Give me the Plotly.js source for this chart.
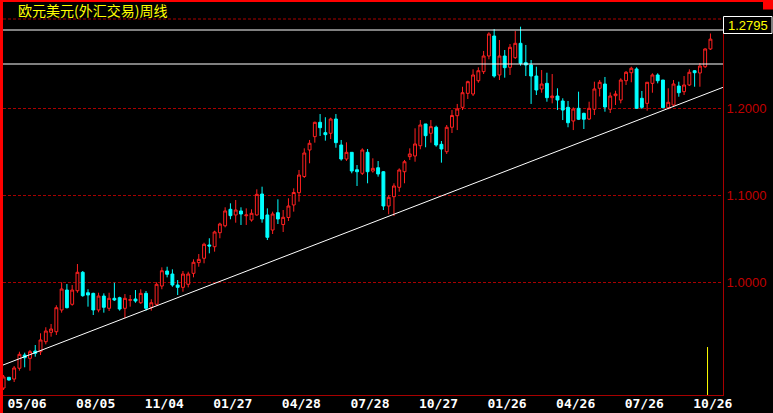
<!DOCTYPE html>
<html>
<head>
<meta charset="utf-8">
<script src="https://cdn.plot.ly/plotly-3.0.1.min.js"></script>
<style>
  html, body { margin: 0; padding: 0; background: #000; }
  #chart { width: 773px; height: 413px; }
</style>
</head>
<body>
<div id="chart"></div>
<script>
// ---- data (weekly EUR/USD candles) ----
const titleText = '欧元美元(外汇交易)周线';
const dateLabels = ['05/06','08/05','11/04','01/27','04/28','07/28','10/27','01/26','04/26','07/26','10/26'];
const dateLabelIdx = [1,14,27,40,53,66,79,92,105,118,131];

const openP = [
0.8785,0.8908,0.8888,0.9012,0.9164,0.9126,0.9210,0.9202,0.9317,0.9425,
0.9432,0.9682,0.9911,0.9747,0.9903,1.0115,0.9880,0.9873,0.9682,0.9842,
0.9701,0.9816,0.9823,0.9701,0.9793,0.9808,0.9765,0.9873,0.9713,0.9747,
0.9957,1.0130,1.0095,0.9969,0.9942,0.9977,1.0103,1.0226,1.0276,1.0429,
1.0409,1.0570,1.0650,1.0839,1.0774,1.0820,1.0765,1.0716,1.0774,1.1015,
1.0774,1.0601,1.0800,1.0664,1.0745,1.0889,1.1030,1.1216,1.1521,1.1674,
1.1839,1.1720,1.1713,1.1877,1.1578,1.1417,1.1494,1.1294,1.1253,1.1494,
1.1279,1.1317,1.1271,1.0877,1.0984,1.1092,1.1271,1.1444,1.1452,1.1570,
1.1820,1.1713,1.1782,1.1586,1.1501,1.1782,1.1915,1.2011,1.2172,1.2164,
1.2317,1.2421,1.2601,1.2831,1.2383,1.2601,1.2471,1.2582,1.2747,1.2524,
1.2498,1.2371,1.2222,1.2287,1.2122,1.2141,1.2084,1.2011,1.1854,1.2000,
1.1942,1.1877,1.1989,1.2230,1.2279,1.1989,1.2145,1.2095,1.2317,1.2409,
1.2452,1.2115,1.2057,1.2287,1.2383,1.2325,1.2007,1.2038,1.2256,1.2191,
1.2268,1.2432,1.2406,1.2478,1.2682];
const highP = [
0.8935,0.8912,0.9038,0.9202,0.9191,0.9222,0.9279,0.9414,0.9483,0.9521,
0.9736,1.0000,0.9980,0.9969,1.0210,1.0130,0.9920,0.9880,0.9880,0.9873,
0.9880,0.9995,0.9834,0.9865,0.9854,0.9911,0.9920,0.9900,0.9805,1.0000,
1.0172,1.0179,1.0149,1.0026,1.0130,1.0122,1.0264,1.0325,1.0455,1.0506,
1.0593,1.0685,1.0862,1.0908,1.0946,1.0862,1.0850,1.0839,1.1069,1.1099,
1.0850,1.0812,1.0954,1.0831,1.0966,1.1080,1.1291,1.1540,1.1636,1.1846,
1.1934,1.1897,1.1892,1.1934,1.1636,1.1609,1.1494,1.1348,1.1540,1.1532,
1.1425,1.1394,1.1279,1.1003,1.1138,1.1310,1.1406,1.1540,1.1770,1.1865,
1.1820,1.1865,1.1800,1.1624,1.1808,1.1980,1.2050,1.2248,1.2317,1.2448,
1.2471,1.2659,1.2874,1.2911,1.2785,1.2670,1.2739,1.2889,1.2938,1.2728,
1.2555,1.2478,1.2440,1.2409,1.2394,1.2230,1.2115,1.2084,1.2011,1.2191,
1.1949,1.2076,1.2306,1.2325,1.2360,1.2182,1.2202,1.2345,1.2429,1.2478,
1.2471,1.2199,1.2299,1.2402,1.2402,1.2325,1.2230,1.2325,1.2306,1.2371,
1.2448,1.2440,1.2521,1.2690,1.2860];
const lowP = [
0.8762,0.8870,0.8854,0.8984,0.9023,0.8984,0.9145,0.9164,0.9287,0.9375,
0.9394,0.9651,0.9700,0.9731,0.9880,0.9834,0.9720,0.9624,0.9655,0.9651,
0.9670,0.9785,0.9674,0.9586,0.9720,0.9765,0.9751,0.9674,0.9674,0.9731,
0.9920,1.0057,0.9949,0.9854,0.9892,0.9942,1.0057,1.0179,1.0218,1.0333,
1.0352,1.0506,1.0632,1.0724,1.0685,1.0659,1.0659,1.0697,1.0766,1.0685,
1.0486,1.0555,1.0670,1.0578,1.0705,1.0812,1.0927,1.1199,1.1368,1.1605,
1.1682,1.1628,1.1647,1.1547,1.1398,1.1395,1.1253,1.1107,1.1233,1.1138,
1.1260,1.1214,1.0831,1.0782,1.0762,1.1041,1.1138,1.1406,1.1386,1.1529,
1.1552,1.1605,1.1559,1.1375,1.1475,1.1716,1.1750,1.1980,1.2107,1.2141,
1.2294,1.2394,1.2563,1.2352,1.2325,1.2352,1.2383,1.2567,1.2490,1.2371,
1.2050,1.2153,1.2179,1.2076,1.2057,1.1980,1.1865,1.1782,1.1750,1.1865,
1.1762,1.1865,1.1923,1.2136,1.1961,1.1946,1.2038,1.2057,1.2268,1.2299,
1.1992,1.1992,1.1972,1.2179,1.2287,1.2000,1.1989,1.2026,1.2133,1.2153,
1.2256,1.2248,1.2248,1.2463,1.2670];
const closeP = [
0.8912,0.8877,0.9015,0.9172,0.9133,0.9202,0.9184,0.9337,0.9440,0.9463,
0.9708,0.9923,0.9708,0.9911,1.0115,0.9846,0.9854,0.9682,0.9842,0.9713,
0.9816,0.9797,0.9693,0.9816,0.9800,0.9785,0.9873,0.9701,0.9765,0.9977,
1.0133,1.0092,0.9969,0.9942,1.0095,1.0095,1.0230,1.0264,1.0437,1.0417,
1.0578,1.0670,1.0820,1.0766,1.0831,1.0785,1.0774,1.0793,1.1011,1.0728,
1.0517,1.0785,1.0728,1.0747,1.0877,1.1032,1.1233,1.1486,1.1598,1.1839,
1.1777,1.1697,1.1877,1.1605,1.1417,1.1494,1.1279,1.1271,1.1521,1.1271,
1.1310,1.1245,1.0877,1.0977,1.1107,1.1291,1.1386,1.1475,1.1590,1.1808,
1.1685,1.1789,1.1578,1.1532,1.1782,1.1917,1.1992,1.2179,1.2306,1.2383,
1.2432,1.2601,1.2854,1.2371,1.2601,1.2467,1.2701,1.2747,1.2517,1.2498,
1.2371,1.2210,1.2279,1.2122,1.2141,1.2095,1.1980,1.1834,1.1992,1.1874,
1.1874,1.2000,1.2222,1.2299,1.2015,1.2141,1.2164,1.2325,1.2414,1.2460,
1.2000,1.2011,1.2299,1.2383,1.2317,1.2007,1.2069,1.2279,1.2179,1.2268,
1.2414,1.2409,1.2486,1.2682,1.2795];

const lastPriceText = '1.2795';
const levelPrices = [1.2900, 1.2509];          // white horizontal lines
const trendIdx = [-0.114, 136.38];              // trendline end points (week index)
const trendPrice = [0.9049, 1.2241];            // trendline end points (price)
const gridPrices = [1.0, 1.1, 1.2];
const gridLabels = ['1.0000','1.1000','1.2000'];
const cursorIdx = 133.45;                       // yellow cursor marker
const cursorPrice = [0.8705, 0.9256];

// ---- layout geometry (page pixels) ----
const PW = 773, PH = 413;
const L = 3, R = 50, T = 19, B = 18;
const W = PW - L - R, H = PH - T - B;
const px = x => (x - L) / W;
const py = y => (T + H - y) / H;

const weekIdx = openP.map((_, i) => i);

const trace = {
  type: 'candlestick',
  x: weekIdx,
  open: openP, high: highP, low: lowP, close: closeP,
  increasing: { line: { color: '#ff2020', width: 1 }, fillcolor: '#000000' },
  decreasing: { line: { color: '#00ffff', width: 1 }, fillcolor: '#00ffff' },
  whiskerwidth: 0,
  hoverinfo: 'skip',
  showlegend: false
};

const darkRed = '#a80000';
const shapes = [
  // left and top red borders, top-right red box
  { type: 'rect', xref: 'paper', yref: 'paper', x0: px(0), x1: px(3), y0: py(PH), y1: py(0), fillcolor: '#ff0000', line: { width: 0 } },
  { type: 'rect', xref: 'paper', yref: 'paper', x0: px(0), x1: px(PW), y0: py(2), y1: py(0), fillcolor: '#ff0000', line: { width: 0 } },
  { type: 'rect', xref: 'paper', yref: 'paper', x0: px(763), x1: px(PW), y0: py(9.5), y1: py(0), fillcolor: '#ff0000', line: { width: 0 } },
  // dashed top frame
  { type: 'line', xref: 'paper', yref: 'paper', x0: 0, x1: 1, y0: 1, y1: 1, line: { color: darkRed, width: 1, dash: '3px,2px' } },
  // white level lines
  ...levelPrices.map(p => ({ type: 'line', xref: 'paper', yref: 'y', x0: 0, x1: 1, y0: p, y1: p, line: { color: '#ffffff', width: 1 } })),
  // trendline
  { type: 'line', xref: 'x', yref: 'y', x0: trendIdx[0], x1: trendIdx[1], y0: trendPrice[0], y1: trendPrice[1], line: { color: '#ffffff', width: 1 } },
  // yellow cursor
  { type: 'line', xref: 'x', yref: 'y', x0: cursorIdx, x1: cursorIdx, y0: cursorPrice[0], y1: cursorPrice[1], line: { color: '#ffff00', width: 1 } },
  // last price box
  { type: 'rect', xref: 'paper', yref: 'paper', x0: px(723.5), x1: px(772), y0: py(33.5), y1: py(16.5), fillcolor: '#000000', line: { color: '#ffffff', width: 1 } }
];

const annotations = [
  { xref: 'paper', yref: 'paper', x: px(16), y: py(10), xanchor: 'left', yanchor: 'middle', showarrow: false,
    text: titleText, font: { family: '"Noto Sans CJK SC", sans-serif', size: 14, color: '#ffff00' } },
  { xref: 'paper', yref: 'paper', x: px(747.5), y: py(25.5), xanchor: 'center', yanchor: 'middle', showarrow: false,
    text: lastPriceText, font: { family: '"Liberation Sans Narrow", "Liberation Sans", Arial, sans-serif', size: 13, color: '#ffff00' } }
];

const layout = {
  width: PW, height: PH,
  margin: { l: L, r: R, t: T, b: B, pad: 0 },
  paper_bgcolor: '#000000', plot_bgcolor: '#000000',
  boxgap: 0.22,
  showlegend: false,
  xaxis: {
    range: [-0.114, 136.38], fixedrange: true,
    rangeslider: { visible: false },
    showgrid: false, zeroline: false,
    showline: true, linecolor: darkRed, linewidth: 1,
    ticks: '', tickmode: 'array',
    tickvals: dateLabelIdx.map(i => i + 3.45), ticktext: dateLabels,
    tickfont: { family: '"DejaVu Sans Mono", monospace', size: 13, color: '#ffffff', weight: 'bold' },
    ticklabelstandoff: -4
  },
  yaxis: {
    range: [0.87046, 1.30264], fixedrange: true,
    side: 'right',
    showgrid: true, gridcolor: darkRed, gridwidth: 1, griddash: '3px,2px',
    zeroline: false,
    showline: true, linecolor: darkRed, linewidth: 1,
    ticks: '', tickmode: 'array', tickvals: gridPrices, ticktext: gridLabels,
    tickfont: { family: '"Liberation Sans Narrow", "Liberation Sans", Arial, sans-serif', size: 13, color: '#c00000' },
    ticklabelstandoff: 0
  },
  shapes: shapes,
  annotations: annotations
};

Plotly.newPlot('chart', [trace], layout, { staticPlot: true, displayModeBar: false });
</script>
</body>
</html>
